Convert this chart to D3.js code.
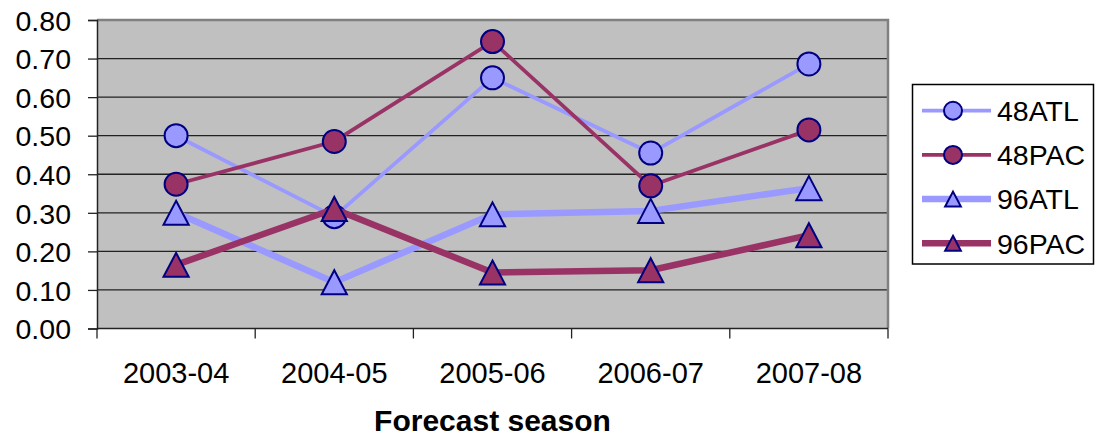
<!DOCTYPE html>
<html>
<head>
<meta charset="utf-8">
<script src="https://cdn.jsdelivr.net/npm/d3@7"></script>
<style>
  html, body { margin: 0; padding: 0; background: #ffffff; }
  svg { display: block; }
  text { font-family: "Liberation Sans", Arial, sans-serif; fill: #000; }
</style>
</head>
<body>
<svg id="chart" width="1097" height="438"></svg>
<script>
const categories = ["2003-04", "2004-05", "2005-06", "2006-07", "2007-08"];
const yTicks = [0, 0.1, 0.2, 0.3, 0.4, 0.5, 0.6, 0.7, 0.8];
const seriesNames = ["48ATL", "48PAC", "96ATL", "96PAC"];
const v48ATL = [0.50, 0.29, 0.65, 0.455, 0.686];
const v48PAC = [0.374, 0.485, 0.744, 0.37, 0.515];
const v96ATL = [0.30, 0.12, 0.296, 0.305, 0.364];
const v96PAC = [0.165, 0.31, 0.145, 0.151, 0.242];
const xTitle = "Forecast season";

const seriesValues = [v48ATL, v48PAC, v96ATL, v96PAC];
const styles = [
  { color: "#9999FF", width: 3.8, marker: "circle" },
  { color: "#993366", width: 3.8, marker: "circle" },
  { color: "#9999FF", width: 6.5, marker: "triangle" },
  { color: "#993366", width: 6.5, marker: "triangle" }
];

const svg = d3.select("#chart");
const plot = { left: 97, top: 20, right: 888, bottom: 328.5 };

const x = d3.scaleBand().domain(categories).range([plot.left, plot.right]).padding(0);
const y = d3.scaleLinear().domain([0, 0.8]).range([plot.bottom, plot.top]);
const cx = c => x(c) + x.bandwidth() / 2;

// plot background
svg.append("rect")
  .attr("x", plot.left).attr("y", plot.top)
  .attr("width", plot.right - plot.left).attr("height", plot.bottom - plot.top)
  .attr("fill", "#C0C0C0");

// gridlines
svg.append("g").selectAll("line").data(yTicks.filter(t => t > 0 && t < 0.8)).join("line")
  .attr("x1", plot.left).attr("x2", plot.right)
  .attr("y1", d => y(d)).attr("y2", d => y(d))
  .attr("stroke", "#222").attr("stroke-width", 1.3);

// plot border (top/right gray)
svg.append("path")
  .attr("d", `M${plot.left},${plot.top}H${plot.right}V${plot.bottom}`)
  .attr("fill", "none").attr("stroke", "#808080").attr("stroke-width", 2.5);

// y axis
const yAxis = d3.axisLeft(y).tickValues(yTicks).tickFormat(d3.format(".2f")).tickSize(9).tickPadding(17);
const gy = svg.append("g").attr("transform", `translate(${plot.left},0)`).call(yAxis);
gy.select(".domain").attr("stroke", "#222").attr("stroke-width", 1.5);
gy.selectAll(".tick line").attr("stroke", "#222").attr("stroke-width", 1.3);
gy.selectAll(".tick text").attr("font-size", "28.5px").attr("font-family", "Liberation Sans, Arial, sans-serif").attr("fill", "#000").attr("dy", "0.36em");

// x axis
const gx = svg.append("g").attr("transform", `translate(0,${plot.bottom})`);
gx.append("line").attr("x1", plot.left).attr("x2", plot.right).attr("y1", 0).attr("y2", 0)
  .attr("stroke", "#222").attr("stroke-width", 1.5);
const bounds = categories.map(c => x(c)).concat([plot.right]);
gx.selectAll("line.tk").data(bounds).join("line").attr("class", "tk")
  .attr("x1", d => d).attr("x2", d => d).attr("y1", 0).attr("y2", 10)
  .attr("stroke", "#222").attr("stroke-width", 1.3);
gx.selectAll("text").data(categories).join("text")
  .attr("x", d => cx(d)).attr("y", 54.5)
  .attr("text-anchor", "middle").attr("font-size", "29px").text(d => d);

// x title
svg.append("text").attr("x", (plot.left + plot.right) / 2).attr("y", 431)
  .attr("text-anchor", "middle").attr("font-size", "30px").attr("font-weight", "bold")
  .text(xTitle);

function triPath(w, h) {
  return `M0,${-h / 2}L${w / 2},${h / 2}L${-w / 2},${h / 2}Z`;
}
function drawMarker(g, type, color, size) {
  if (type === "circle") {
    g.append("circle").attr("r", size).attr("fill", color).attr("stroke", "#000080").attr("stroke-width", 2);
  } else {
    g.append("path").attr("d", triPath(size * 2.1, size * 2)).attr("fill", color)
      .attr("stroke", "#000080").attr("stroke-width", 2).attr("stroke-linejoin", "miter");
  }
}

const line = d3.line().x((d, i) => cx(categories[i])).y(d => y(d));

seriesValues.forEach((vals, si) => {
  const st = styles[si];
  const g = svg.append("g");
  g.append("path").datum(vals).attr("d", line)
    .attr("fill", "none").attr("stroke", st.color).attr("stroke-width", st.width)
    .attr("stroke-linejoin", "round");
  vals.forEach((v, i) => {
    const mg = g.append("g").attr("transform", `translate(${cx(categories[i])},${y(v)})`);
    drawMarker(mg, st.marker, st.color, st.marker === "circle" ? 11.5 : 12);
  });
});

// legend
const leg = svg.append("g");
leg.append("rect").attr("x", 912.5).attr("y", 84.5).attr("width", 181).attr("height", 179.5)
  .attr("fill", "#fff").attr("stroke", "#000").attr("stroke-width", 1.5);
seriesNames.forEach((name, i) => {
  const st = styles[i];
  const yy = 110.7 + i * 44.2;
  leg.append("line").attr("x1", 922).attr("x2", 991).attr("y1", yy).attr("y2", yy)
    .attr("stroke", st.color).attr("stroke-width", st.width);
  const mg = leg.append("g").attr("transform", `translate(953,${yy})`);
  drawMarker(mg, st.marker, st.color, st.marker === "circle" ? 9 : 7.5);
  leg.append("text").attr("x", 997).attr("y", yy).attr("dy", "0.36em")
    .attr("font-size", "28.5px").text(name);
});
</script>
</body>
</html>
